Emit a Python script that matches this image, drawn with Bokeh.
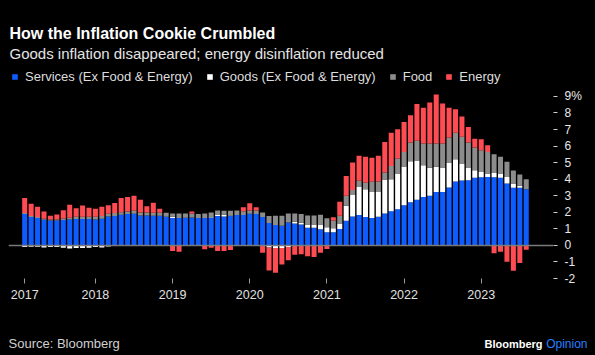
import pandas as pd
from bokeh.plotting import figure
from bokeh.layouts import column
from bokeh.models import (ColumnDataSource, Span, Label, Legend, LegendItem,
                          FixedTicker, Range1d)
from bokeh.embed import file_html
from bokeh.resources import INLINE

# Monthly contributions to US CPI inflation, percentage points (Feb 2017 - Aug 2023)
months = pd.date_range("2017-02-01", "2023-08-01", freq="MS")

services = [1.89, 1.71, 1.65, 1.55, 1.51, 1.51, 1.53, 1.57, 1.59, 1.59, 1.59,
            1.57, 1.61, 1.75, 1.77, 1.85, 1.89, 1.91, 1.81, 1.81, 1.79, 1.79, 1.73,
            1.65, 1.65, 1.67, 1.69, 1.65, 1.65, 1.69, 1.77, 1.75, 1.77, 1.83, 1.83,
            1.91, 1.89, 1.71, 1.35, 1.23, 1.19, 1.39, 1.33, 1.27, 1.07, 1.07, 0.97,
            0.80, 0.80, 0.99, 1.49, 1.75, 1.83, 1.71, 1.65, 1.73, 1.93, 2.07, 2.19,
            2.43, 2.60, 2.76, 2.92, 3.00, 3.22, 3.22, 3.50, 3.86, 3.92, 3.94, 4.08,
            4.12, 4.14, 4.12, 4.08, 3.74, 3.48, 3.48, 3.40]

goods = [-0.10, -0.08, -0.08, -0.12, -0.10, -0.10, -0.14, -0.18, -0.16, -0.16, -0.14,
         -0.10, -0.12, -0.06, -0.04, -0.04, -0.04, -0.04, -0.04, -0.04, -0.02, -0.02, 0.00,
         0.08, -0.02, 0.00, 0.00, 0.00, 0.00, 0.06, 0.10, 0.10, 0.02, 0.00, 0.00,
         0.00, 0.00, 0.00, -0.12, -0.16, -0.16, -0.10, 0.10, 0.10, 0.20, 0.20, 0.30,
         0.30, 0.24, 0.34, 0.91, 1.29, 1.73, 1.69, 1.57, 1.49, 2.05, 1.93, 2.15,
         2.33, 2.49, 2.37, 1.93, 1.69, 1.53, 1.49, 1.51, 1.35, 1.03, 0.76, 0.46,
         0.32, 0.20, 0.26, 0.26, 0.40, 0.26, 0.12, 0.00]

food = [0.06, 0.06, 0.06, 0.06, 0.06, 0.06, 0.10, 0.10, 0.14, 0.14, 0.14,
        0.16, 0.16, 0.16, 0.18, 0.16, 0.16, 0.18, 0.18, 0.18, 0.18, 0.20, 0.24,
        0.20, 0.28, 0.26, 0.24, 0.24, 0.28, 0.24, 0.24, 0.24, 0.30, 0.28, 0.24,
        0.20, 0.22, 0.28, 0.42, 0.56, 0.60, 0.54, 0.50, 0.52, 0.54, 0.54, 0.58,
        0.54, 0.46, 0.46, 0.60, 0.30, 0.34, 0.38, 0.62, 0.64, 0.42, 0.80, 0.91,
        0.89, 1.13, 1.19, 1.31, 1.47, 1.41, 1.45, 1.51, 1.59, 1.61, 1.51, 1.37,
        1.31, 1.31, 1.13, 1.01, 0.91, 0.78, 0.68, 0.60]

energy = [0.91, 0.75, 0.62, 0.44, 0.22, 0.30, 0.50, 0.78, 0.52, 0.68, 0.54,
          0.48, 0.56, 0.52, 0.61, 0.85, 0.87, 0.91, 0.77, 0.38, 0.61, 0.22, -0.04,
          -0.34, -0.36, 0.00, 0.12, -0.04, -0.24, -0.14, -0.34, -0.34, -0.28, 0.00, 0.24,
          0.44, 0.20, -0.44, -1.39, -1.49, -0.99, -0.80, -0.56, -0.54, -0.66, -0.70, -0.44,
          -0.22, 0.20, 0.85, 1.19, 1.67, 1.51, 1.57, 1.45, 1.55, 1.85, 2.01, 1.77,
          1.81, 1.65, 2.23, 2.15, 2.47, 2.96, 2.41, 1.79, 1.43, 1.23, 0.95, 0.54,
          0.66, 0.40, -0.48, -0.38, -0.99, -1.53, -1.07, -0.26]

y_ticks = [-2, -1, 0, 1, 2, 3, 4, 5, 6, 7, 8, 9]
year_labels = ["2017", "2018", "2019", "2020", "2021", "2022", "2023"]

C_SERV = "#0d5cff"
C_GOODS = "#ffffff"
C_FOOD = "#8c8c8c"
C_ENERGY = "#ff4c52"
BG = "#000000"
FONT = "Liberation Sans"

# ---- stacking (positive parts up, negative parts down) ----
n = len(months)
x = list(range(n))
g_pos = [max(g, 0) for g in goods]
g_neg = [min(g, 0) for g in goods]
e_pos = [max(e, 0) for e in energy]
e_neg = [min(e, 0) for e in energy]

s_top = services
gp_top = [s + g for s, g in zip(s_top, g_pos)]
f_top = [a + f for a, f in zip(gp_top, food)]
ep_top = [a + e for a, e in zip(f_top, e_pos)]
en_bot = [a + e for a, e in zip(g_neg, e_neg)]

src = ColumnDataSource(dict(
    x=x, zero=[0.0] * n, s_top=s_top, gp_top=gp_top, f_top=f_top,
    ep_top=ep_top, g_neg=g_neg, en_bot=en_bot))


def text_fig(h):
    f = figure(width=595, height=h, output_backend="svg", toolbar_location=None,
               title=None, x_axis_type=None, y_axis_type=None,
               x_range=Range1d(0, 1), y_range=Range1d(0, 1),
               min_border=0, min_border_left=0, min_border_right=0,
               min_border_top=0, min_border_bottom=0, frame_align=False,
               background_fill_color=BG, border_fill_color=BG,
               outline_line_color=None)
    f.grid.visible = False
    return f


def lab(f, text, x, y, size, color, style="normal", align="left"):
    f.add_layout(Label(x=x, y=y, x_units="screen", y_units="screen", text=text,
                       text_font=FONT, text_font_size=size, text_color=color,
                       text_font_style=style, text_align=align,
                       text_baseline="alphabetic"))


# ---- header ----
header = text_fig(64)
lab(header, "How the Inflation Cookie Crumbled", 9, 31, "16px", "#ffffff", "bold")
lab(header, "Goods inflation disappeared; energy disinflation reduced", 9, 11, "15px", "#e4e4e4")

# ---- main chart ----
p = figure(width=595, height=261, output_backend="svg", toolbar_location=None,
           title=None, frame_align=False,
           x_range=Range1d(-2.52, 82.24), y_range=Range1d(-2, 10.93),
           y_axis_location="right",
           min_border_left=8, min_border_right=42, min_border_top=0,
           min_border_bottom=47,
           background_fill_color=BG, border_fill_color=BG,
           outline_line_color=None)
p.grid.visible = False

W = 0.78
r_s = p.vbar(x="x", bottom="zero", top="s_top", width=W, source=src,
             fill_color=C_SERV, line_color=None)
r_gp = p.vbar(x="x", bottom="s_top", top="gp_top", width=W, source=src,
              fill_color=C_GOODS, line_color=None)
r_f = p.vbar(x="x", bottom="gp_top", top="f_top", width=W, source=src,
             fill_color=C_FOOD, line_color=None)
r_ep = p.vbar(x="x", bottom="f_top", top="ep_top", width=W, source=src,
              fill_color=C_ENERGY, line_color=None)
p.vbar(x="x", bottom="zero", top="g_neg", width=W, source=src,
       fill_color=C_GOODS, line_color=None)
p.vbar(x="x", bottom="en_bot", top="g_neg", width=W, source=src,
       fill_color=C_ENERGY, line_color=None)

p.add_layout(Span(location=0, dimension="width", line_color="#7a7a7a",
                  line_width=1.5))

# x axis: year ticks
year_pos = [0] + [i for i, m in enumerate(months) if m.month == 1]
xa = p.xaxis[0]
xa.ticker = FixedTicker(ticks=year_pos)
xa.major_label_overrides = {k: lab_ for k, lab_ in zip(year_pos, year_labels)}
xa.axis_line_color = None
xa.major_tick_line_color = "#9a9a9a"
xa.major_tick_out = 5
xa.major_tick_in = 0
xa.minor_tick_line_color = None
xa.major_label_standoff = 6
xa.major_label_text_color = "#e0e0e0"
xa.major_label_text_font = FONT
xa.major_label_text_font_size = "12.5px"

# y axis on the right
ya = p.yaxis[0]
ya.ticker = FixedTicker(ticks=y_ticks)
ya.major_label_overrides = {t: (f"{t}%" if t == max(y_ticks) else str(t)) for t in y_ticks}
ya.axis_line_color = None
ya.major_tick_line_color = "#d0d0d0"
ya.major_tick_out = 4
ya.major_tick_in = 0
ya.minor_tick_line_color = None
ya.major_label_standoff = 7
ya.major_label_text_color = "#e8e8e8"
ya.major_label_text_font = FONT
ya.major_label_text_font_size = "12px"

# legend (inside the frame, above the bars)
legend = Legend(items=[
    LegendItem(label="Services (Ex Food & Energy)", renderers=[r_s]),
    LegendItem(label="Goods (Ex Food & Energy)", renderers=[r_gp]),
    LegendItem(label="Food", renderers=[r_f]),
    LegendItem(label="Energy", renderers=[r_ep]),
], orientation="horizontal", location=(3, 194),
    glyph_width=7, glyph_height=7, label_standoff=7, spacing=13,
    padding=0, margin=0, label_height=14,
    label_text_font=FONT, label_text_font_size="13px",
    label_text_color="#dddddd",
    background_fill_alpha=0, border_line_alpha=0)
p.add_layout(legend)

# ---- footer ----
footer = text_fig(30)
lab(footer, "Source: Bloomberg", 8, 12, "13px", "#d0d0d0")
lab(footer, "Opinion", 587, 12, "12px", "#2a7fff", "normal", "right")
lab(footer, "Bloomberg", 542, 12, "11px", "#ffffff", "bold", "right")

page = column(header, p, footer, spacing=0)

open("out.html", "w").write(
    file_html(page, INLINE).replace("<head>", "<head><style>html,body{background:#000000;}</style>", 1))
